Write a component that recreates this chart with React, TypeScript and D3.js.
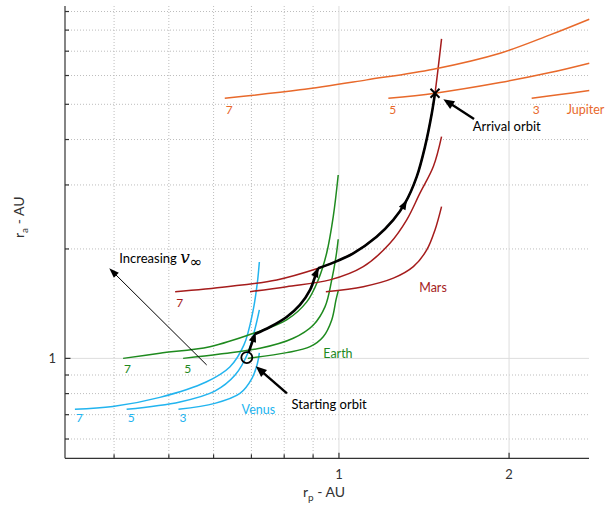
import React from 'react';
import * as d3 from 'd3';

type Pt = [number, number];

// ---------- axes ----------
const xDomain: [number, number] = [0.3275, 2.77];
const yDomain: [number, number] = [0.531, 9.32];
const xMajorTicks = [1, 2];
const xMinorTicks = [0.4, 0.5, 0.6, 0.7, 0.8, 0.9];
const yMajorTicks = [1];
const yMinorTicks = [0.6, 0.7, 0.8, 0.9, 2, 3, 4, 5, 6, 7, 8, 9];

// ---------- Tisserand curves (rp, ra) in AU ----------
const vinfLabels = [7, 5, 3];

const venus7: Pt[] = [[0.341, 0.7245], [0.398, 0.737], [0.482, 0.781], [0.582, 0.861], [0.641, 0.947], [0.679, 1.089], [0.704, 1.342], [0.717, 1.612], [0.723, 1.842]];
const venus5: Pt[] = [[0.421, 0.7245], [0.523, 0.759], [0.603, 0.813], [0.655, 0.9], [0.69, 1.035], [0.711, 1.213], [0.723, 1.359]];
const venus3: Pt[] = [[0.52, 0.7245], [0.603, 0.752], [0.668, 0.801], [0.702, 0.883], [0.717, 0.965], [0.723, 1.035]];

const earth7: Pt[] = [[0.415, 1.0], [0.482, 1.033], [0.591, 1.077], [0.706, 1.172], [0.808, 1.276], [0.877, 1.43], [0.919, 1.644], [0.951, 1.946], [0.977, 2.455], [0.997, 3.196]];
const earth5: Pt[] = [[0.53, 1.0], [0.616, 1.028], [0.725, 1.066], [0.83, 1.136], [0.901, 1.236], [0.945, 1.388], [0.971, 1.644], [0.988, 1.905], [0.997, 2.127]];
const earth3: Pt[] = [[0.69, 1.0], [0.808, 1.037], [0.889, 1.077], [0.938, 1.147], [0.971, 1.276], [0.988, 1.448], [0.997, 1.533]];

const mars7: Pt[] = [[0.513, 1.526], [0.633, 1.575], [0.776, 1.644], [0.919, 1.77], [0.977, 1.834], [1.06, 1.946], [1.166, 2.162], [1.248, 2.404], [1.309, 2.672], [1.373, 3.162], [1.42, 3.824], [1.46, 4.726], [1.479, 5.365], [1.519, 7.568]];
const mars5: Pt[] = [[0.696, 1.526], [0.808, 1.575], [0.964, 1.644], [1.104, 1.788], [1.231, 2.073], [1.318, 2.404], [1.391, 2.847], [1.469, 3.37], [1.519, 4.074]];
const mars3: Pt[] = [[0.948, 1.526], [1.104, 1.575], [1.248, 1.662], [1.354, 1.788], [1.43, 1.987], [1.479, 2.256], [1.519, 2.615]];

const jupiter7: Pt[] = [[0.628, 5.196], [0.853, 5.479], [1.12, 5.837], [1.469, 6.246], [1.928, 6.912], [2.363, 7.762], [2.773, 8.573]];
const jupiter5: Pt[] = [[1.223, 5.196], [1.479, 5.365], [1.928, 5.738], [2.363, 6.113], [2.773, 6.489]];
const jupiter3: Pt[] = [[2.193, 5.196], [2.46, 5.32], [2.773, 5.455]];

// ---------- trajectory ----------
const startOrbit: Pt = [0.687, 1.005];
const arrivalOrbit: Pt = [1.479, 5.365];
const trajSeg1: Pt[] = [[0.687, 1.005], [0.7105, 1.167]];
const trajSeg2: Pt[] = [[0.7105, 1.167], [0.755, 1.22], [0.808, 1.3], [0.853, 1.403], [0.889, 1.543], [0.913, 1.729], [0.919, 1.77]];
const trajSeg3: Pt[] = [[0.919, 1.77], [0.977, 1.834], [1.06, 1.946], [1.166, 2.162], [1.248, 2.404], [1.309, 2.672], [1.373, 3.162], [1.42, 3.824], [1.46, 4.726], [1.479, 5.365]];
const trajMidArrowIndex = 5;

// ---------- annotations (data coords) ----------
const increasingArrow: Pt[] = [[0.5834, 0.959], [0.3922, 1.77]];
const startArrow: Pt[] = [[0.809, 0.8015], [0.7125, 0.951]];
const arrivalArrow: Pt[] = [[1.734, 4.558], [1.53, 5.164]];
const increasingTextPos: Pt = [0.4085, 1.83];
const startTextPos: Pt = [0.8246, 0.7245];
const arrivalTextPos: Pt = [1.725, 4.225];

const planetNames = ['Venus', 'Earth', 'Mars', 'Jupiter'];
const planetColors = ['#22b4ef', '#1e8a1e', '#a51c1c', '#e8692b'];
const planetLabelPos: Pt[] = [[0.6726, 0.7017], [0.938, 1.0], [1.387, 1.526], [2.529, 4.705]];
const planetCurves: Pt[][][] = [
  [venus7, venus5, venus3],
  [earth7, earth5, earth3],
  [mars7, mars5, mars3],
  [jupiter7, jupiter5, jupiter3],
];
// which curves carry a v-infinity label
const showVinf: boolean[][] = [
  [true, true, true],
  [true, true, false],
  [true, false, false],
  [true, true, true],
];
const vinfLabelDy = [12.5, 15, 15, 15.5];

const FONT = 'Lato, "Open Sans", sans-serif';

function headPoints(tip: [number, number], angle: number, len: number, wid: number): string {
  const bx = tip[0] - len * Math.cos(angle);
  const by = tip[1] - len * Math.sin(angle);
  const nx = -Math.sin(angle) * wid / 2;
  const ny = Math.cos(angle) * wid / 2;
  return `${tip[0]},${tip[1]} ${bx + nx},${by + ny} ${bx - nx},${by - ny}`;
}

export default function App() {
  const W = 610, H = 505;
  const left = 65, right = 589, top = 6, bottom = 458.3;
  const x = d3.scaleLog().domain(xDomain).range([left, right]);
  const y = d3.scaleLog().domain(yDomain).range([bottom, top]);
  const line = d3.line<Pt>().x(d => x(d[0])).y(d => y(d[1])).curve(d3.curveCatmullRom.alpha(0.5));
  const px = (p: Pt): [number, number] => [x(p[0]), y(p[1])];

  const ang = (a: Pt, b: Pt) => {
    const pa = px(a), pb = px(b);
    return Math.atan2(pb[1] - pa[1], pb[0] - pa[0]);
  };

  const c = px(startOrbit);
  const s1end = px(trajSeg1[1]);
  const a1 = Math.atan2(s1end[1] - c[1], s1end[0] - c[0]);
  const r = 5.5;

  const seg2End = trajSeg2[trajSeg2.length - 1];
  const a2 = ang(trajSeg2[trajSeg2.length - 2], seg2End);
  const midP = trajSeg3[trajMidArrowIndex];
  const aMid = ang(trajSeg3[trajMidArrowIndex - 1], trajSeg3[trajMidArrowIndex + 1]);
  const mp = px(midP);
  const midTip: [number, number] = [mp[0] + 4 * Math.cos(aMid), mp[1] + 4 * Math.sin(aMid)];

  const arrowLine = (pts: Pt[], sw: number, len: number, wid: number, key: string) => {
    const p0 = px(pts[0]), p1 = px(pts[1]);
    const a = Math.atan2(p1[1] - p0[1], p1[0] - p0[0]);
    const lx = p1[0] - (len - 1) * Math.cos(a), ly = p1[1] - (len - 1) * Math.sin(a);
    return (
      <g key={key}>
        <line x1={p0[0]} y1={p0[1]} x2={lx} y2={ly} stroke="#000" strokeWidth={sw} />
        <polygon points={headPoints(p1, a, len, wid)} fill="#000" />
      </g>
    );
  };

  const ap = px(arrivalOrbit);

  return (
    <svg width={W} height={H} style={{ position: 'absolute', left: 0, top: 0, background: '#fff' }} fontFamily={FONT}>
      {/* grid */}
      <g>
        {xMinorTicks.map(t => (
          <line key={'gx' + t} x1={x(t)} x2={x(t)} y1={top} y2={bottom} stroke="#bdbdbd" strokeWidth={1} strokeDasharray="1,2" />
        ))}
        {yMinorTicks.map(t => (
          <line key={'gy' + t} x1={left} x2={right} y1={y(t)} y2={y(t)} stroke="#bdbdbd" strokeWidth={1} strokeDasharray="1,2" />
        ))}
        {xMajorTicks.map(t => (
          <line key={'Gx' + t} x1={x(t)} x2={x(t)} y1={top} y2={bottom} stroke="#dddddd" strokeWidth={1} />
        ))}
        {yMajorTicks.map(t => (
          <line key={'Gy' + t} x1={left} x2={right} y1={y(t)} y2={y(t)} stroke="#dddddd" strokeWidth={1} />
        ))}
      </g>

      {/* axes */}
      <g stroke="#333" strokeWidth={1.2}>
        <line x1={left} x2={left} y1={top} y2={bottom} />
        <line x1={left} x2={right} y1={bottom} y2={bottom} />
        {xMinorTicks.map(t => <line key={'tx' + t} x1={x(t)} x2={x(t)} y1={bottom} y2={bottom - 4} />)}
        {xMajorTicks.map(t => <line key={'Tx' + t} x1={x(t)} x2={x(t)} y1={bottom} y2={bottom - 5.5} />)}
        {yMinorTicks.map(t => <line key={'ty' + t} x1={left} x2={left + 4} y1={y(t)} y2={y(t)} />)}
        {yMajorTicks.map(t => <line key={'Ty' + t} x1={left} x2={left + 5.5} y1={y(t)} y2={y(t)} />)}
      </g>
      <g fill="#333" fontSize={13}>
        {xMajorTicks.map(t => <text key={'lx' + t} x={x(t)} y={479} textAnchor="middle">{t}</text>)}
        {yMajorTicks.map(t => <text key={'ly' + t} x={56} y={y(t) + 5} textAnchor="end">{t}</text>)}
      </g>
      <text x={303} y={497} fontSize={14} fill="#333">
        r<tspan fontSize={10} dy={4}>p</tspan><tspan dy={-4}> - AU</tspan>
      </text>
      <text transform="translate(24,238) rotate(-90)" fontSize={14} fill="#333">
        r<tspan fontSize={10} dy={4}>a</tspan><tspan dy={-4}> - AU</tspan>
      </text>

      {/* planet curves */}
      {planetCurves.map((curves, pi) => (
        <g key={'p' + pi}>
          {curves.map((pts, ci) => (
            <path key={ci} d={line(pts) || ''} fill="none" stroke={planetColors[pi]} strokeWidth={1.5} />
          ))}
          {curves.map((pts, ci) =>
            showVinf[pi][ci] ? (
              <text key={'v' + ci} x={x(pts[0][0]) + 1} y={y(pts[0][1]) + vinfLabelDy[pi]} fontSize={12} fill={planetColors[pi]}>
                {vinfLabels[ci]}
              </text>
            ) : null
          )}
          <text x={x(planetLabelPos[pi][0])} y={y(planetLabelPos[pi][1])} fontSize={12.5} fill={planetColors[pi]}>
            {planetNames[pi]}
          </text>
        </g>
      ))}

      {/* trajectory */}
      <g>
        <circle cx={c[0]} cy={c[1]} r={r} fill="none" stroke="#000" strokeWidth={1.8} />
        <line x1={c[0] + r * Math.cos(a1)} y1={c[1] + r * Math.sin(a1)} x2={s1end[0] - 6 * Math.cos(a1)} y2={s1end[1] - 6 * Math.sin(a1)} stroke="#000" strokeWidth={2.6} />
        <polygon points={headPoints([s1end[0] + 2 * Math.cos(a1), s1end[1] + 2 * Math.sin(a1)], a1, 10, 7.5)} fill="#000" />
        <path d={line(trajSeg2) || ''} fill="none" stroke="#000" strokeWidth={2.6} />
        <polygon points={headPoints([x(seg2End[0]) + 1 * Math.cos(a2), y(seg2End[1]) + 1 * Math.sin(a2)], a2, 10, 7.5)} fill="#000" />
        <path d={line(trajSeg3) || ''} fill="none" stroke="#000" strokeWidth={2.6} />
        <polygon points={headPoints(midTip, aMid, 10, 7.5)} fill="#000" />
        <g stroke="#000" strokeWidth={2}>
          <line x1={ap[0] - 4.5} y1={ap[1] - 4.5} x2={ap[0] + 4.5} y2={ap[1] + 4.5} />
          <line x1={ap[0] - 4.5} y1={ap[1] + 4.5} x2={ap[0] + 4.5} y2={ap[1] - 4.5} />
        </g>
      </g>

      {/* annotations */}
      {arrowLine(increasingArrow, 1, 10, 7, 'inc')}
      {arrowLine(startArrow, 2.4, 11, 9, 'start')}
      {arrowLine(arrivalArrow, 2.4, 11, 9, 'arr')}
      <text x={x(increasingTextPos[0])} y={y(increasingTextPos[1])} fontSize={13} fill="#000">
        Increasing{' '}
        <tspan fontFamily='"DejaVu Serif", serif' fontStyle="italic" fontSize={17}>v</tspan>
        <tspan fontFamily='"DejaVu Sans", sans-serif' fontSize={15} dy={4}>∞</tspan>
      </text>
      <text x={x(startTextPos[0])} y={y(startTextPos[1])} fontSize={13} fill="#000">Starting orbit</text>
      <text x={x(arrivalTextPos[0])} y={y(arrivalTextPos[1])} fontSize={13} fill="#000">Arrival orbit</text>
    </svg>
  );
}
